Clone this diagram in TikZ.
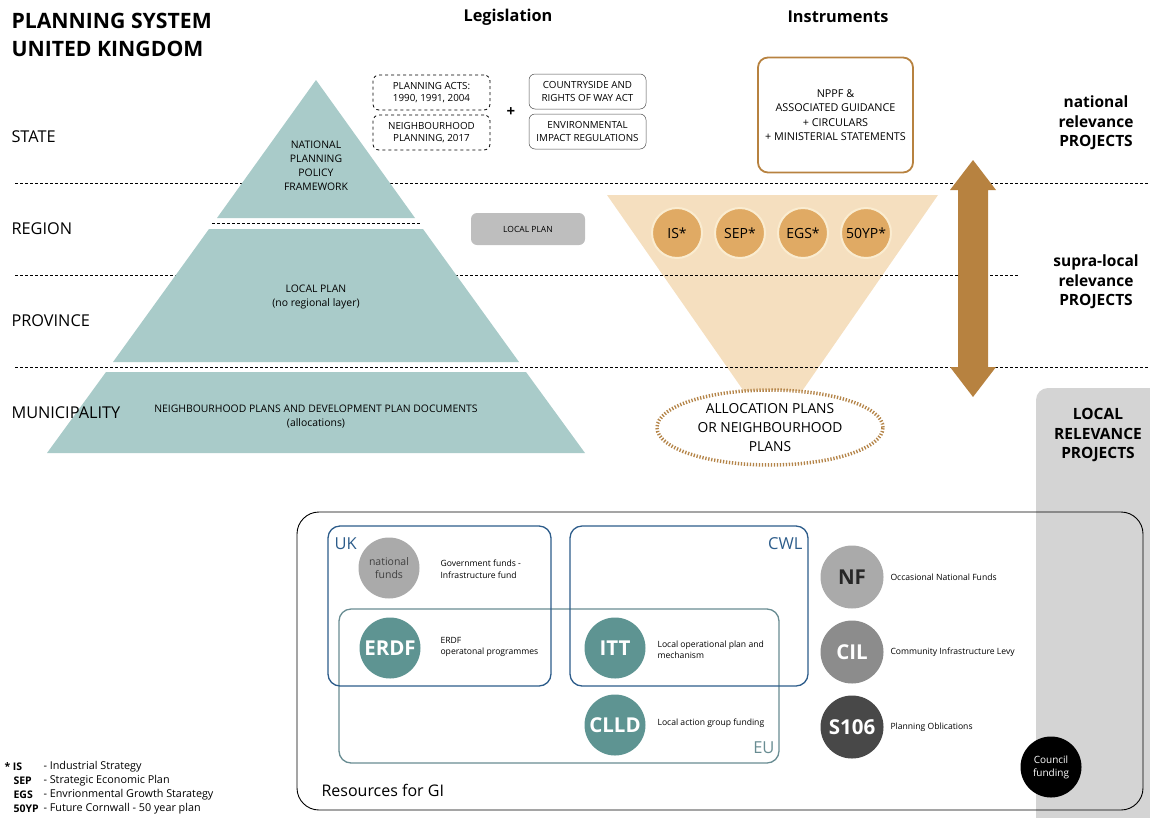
\documentclass[tikz,border=0pt]{standalone}
\usepackage{fontspec}
\setmainfont{Open Sans}
\usepackage{tikz}
\usetikzlibrary{shapes.geometric}

\definecolor{pyr}{RGB}{169,203,201}
\definecolor{fun}{RGB}{245,223,191}
\definecolor{ins}{RGB}{224,170,100}
\definecolor{ring}{RGB}{250,236,208}
\definecolor{brn}{RGB}{183,130,64}
\definecolor{dotc}{RGB}{180,132,72}
\definecolor{band}{RGB}{212,212,212}
\definecolor{lpg}{RGB}{190,190,190}
\definecolor{ukc}{RGB}{44,92,138}
\definecolor{euc}{RGB}{104,140,146}
\definecolor{tl}{RGB}{94,148,146}
\definecolor{nfc}{RGB}{170,170,170}
\definecolor{cilc}{RGB}{140,140,140}
\definecolor{sc}{RGB}{72,72,72}

\tikzset{
	lvl/.style={anchor=west, font=\fontsize{16.3}{18}\selectfont},
	hdr/.style={font=\bfseries\fontsize{16.3}{18}\selectfont},
	ptext/.style={align=center, font=\fontsize{10.4}{14}\selectfont},
	legbox/.style={rounded corners=6, minimum width=117, minimum height=35, align=center, inner sep=0, font=\fontsize{9.8}{12.5}\selectfont},
	lev/.style={align=center, font=\bfseries\fontsize{15.5}{19.5}\selectfont},
	inst/.style={circle, fill=ins, draw=ring, line width=2, minimum size=50, inner sep=0, font=\fontsize{14}{15}\selectfont},
	fund/.style={circle, minimum size=61, inner sep=0, font=\bfseries\fontsize{20.5}{22}\selectfont},
	desc/.style={anchor=west, align=left, font=\fontsize{8.6}{11.5}\selectfont},
	grp/.style={font=\fontsize{16.5}{18}\selectfont},
	key/.style={anchor=west, font=\bfseries\fontsize{10.5}{12}\selectfont},
	keyd/.style={anchor=west, font=\fontsize{10.8}{12}\selectfont}
}

\begin{document}
\begin{tikzpicture}[x=1pt, y=-1pt]
	\useasboundingbox (0,0) rectangle (1150,817);

	% titles
	\node[anchor=west, font=\bfseries\fontsize{21.2}{23}\selectfont] (t1) at (8,21) {PLANNING SYSTEM};
	\node[anchor=west, font=\bfseries\fontsize{21.2}{23}\selectfont] (t2) at (8,49) {UNITED KINGDOM};
	\node[hdr] (legis) at (508,17) {Legislation};
	\node[hdr] (instr) at (838,17) {Instruments};

	% funnel
	\fill[fun] (607,195) -- (938,195) -- (773,433) -- cycle;

	% level lines
	\draw[dash pattern=on 3pt off 2pt, line width=0.8] (15,183) -- (1150,183);
	\draw[dash pattern=on 3pt off 2pt, line width=0.8] (15,275) -- (1019,275);
	\draw[dash pattern=on 3pt off 2pt, line width=0.8] (15,367) -- (1150,367);

	% pyramid
	\fill[pyr] (316,80) -- (415,218) -- (217,218) -- cycle;
	\draw[dash pattern=on 3pt off 2pt, line width=0.8] (212,223) -- (420,223);
	\fill[pyr] (209,229) -- (423,229) -- (519,362) -- (113,362) -- cycle;
	\fill[pyr] (106,372) -- (526,372) -- (585,453) -- (47,453) -- cycle;
	\node[ptext] (nppf) at (316,166) {NATIONAL\\PLANNING\\POLICY\\FRAMEWORK};
	\node[ptext] (lplan) at (316,297) {LOCAL PLAN\\(no regional layer)};
	\node[ptext] (nplans) at (316,417) {NEIGHBOURHOOD PLANS AND DEVELOPMENT PLAN DOCUMENTS\\(allocations)};

	\node[lvl] (state) at (8,137) {STATE};
	\node[lvl] (region) at (8,229) {REGION};
	\node[lvl] (prov) at (8,321) {PROVINCE};
	\node[lvl] (muni) at (8,413) {MUNICIPALITY};

	% legislation
	\node[legbox, draw, dashed, line width=0.8] (acts) at (431.5,92.5) {PLANNING ACTS:\\1990, 1991, 2004};
	\node[legbox, draw, dashed, line width=0.8] (neigh) at (431.5,132.5) {NEIGHBOURHOOD\\PLANNING, 2017};
	\node[font=\bfseries\fontsize{15}{16}\selectfont] (plus) at (511,112) {+};
	\node[legbox, draw=black!70, line width=0.5] (crow) at (587.5,91.5) {COUNTRYSIDE AND\\RIGHTS OF WAY ACT};
	\node[legbox, draw=black!70, line width=0.5] (eia) at (587.5,131.5) {ENVIRONMENTAL\\IMPACT REGULATIONS};
	\node[fill=lpg, rounded corners=6, minimum width=114, minimum height=32, font=\fontsize{8.5}{10}\selectfont] (lpbox) at (528,229) {LOCAL PLAN};

	% instruments
	\node[draw=brn, line width=1.8, rounded corners=10, minimum width=155, minimum height=115, align=center, font=\fontsize{10.8}{14.3}\selectfont] (guid) at (835.5,115) {NPPF \&\\ASSOCIATED GUIDANCE\\+ CIRCULARS\\+ MINISTERIAL STATEMENTS};
	\node[inst] (is) at (677,233) {IS*};
	\node[inst] (sep) at (740,233) {SEP*};
	\node[inst] (egs) at (803,233) {EGS*};
	\node[inst] (yp) at (866,233) {50YP*};
	\node[ellipse, draw=dotc, fill=white, line width=3.5, dash pattern=on 1.3pt off 1.7pt, minimum width=226, minimum height=75, inner sep=0, align=center, font=\fontsize{13.8}{19}\selectfont] (alloc) at (770,427.5) {ALLOCATION PLANS\\OR NEIGHBOURHOOD\\PLANS};

	% relevance arrow
	\fill[brn] (973,160) -- (996,190) -- (988,190) -- (988,367) -- (996,367) -- (973,397)
		-- (950,367) -- (958,367) -- (958,190) -- (950,190) -- cycle;
	\node[lev] (natp) at (1096,123) {national\\relevance\\PROJECTS};
	\node[lev] (supp) at (1096,282) {supra-local\\relevance\\PROJECTS};

	\fill[band, rounded corners=12] (1036,388) rectangle (1175,845);
	\node[lev] (locp) at (1098,435) {LOCAL\\RELEVANCE\\PROJECTS};

	% resources
	\draw[line width=0.9, rounded corners=22] (297,512) rectangle (1143,810);
	\node[anchor=west, font=\fontsize{16}{17}\selectfont] (res) at (318,790) {Resources for GI};

	\draw[euc, line width=1.3, rounded corners=12] (339,609) rectangle (779,763);
	\draw[ukc, line width=1.3, rounded corners=12] (328,526) rectangle (551,686);
	\draw[ukc, line width=1.3, rounded corners=12] (570,526) rectangle (808,686);
	\node[grp, ukc, anchor=west] (uk) at (331,544) {UK};
	\node[grp, ukc, anchor=east] (cwl) at (806,544) {CWL};
	\node[grp, euc, anchor=east] (eu) at (778,748) {EU};

	\node[fund, fill=nfc, text=black!75, font=\fontsize{10.5}{13}\selectfont, align=center] (natf) at (389,568) {national\\funds};
	\node[fund, fill=tl, text=white] (erdf) at (390,648) {ERDF};
	\node[fund, fill=tl, text=white] (itt) at (615,648) {ITT};
	\node[fund, fill=tl, text=white] (clld) at (615,725) {CLLD};
	\node[fund, fill=nfc, text=black!85, minimum size=63] (nf) at (852,577) {NF};
	\node[fund, fill=cilc, text=white, minimum size=63] (cil) at (852,652) {CIL};
	\node[fund, fill=sc, text=white, minimum size=63] (s106) at (852,727) {S106};
	\node[fund, fill=black, text=white, font=\fontsize{10}{13}\selectfont, align=center] (council) at (1051,767) {Council\\funding};

	\node[desc] (d1) at (437,569) {Government funds -\\Infrastructure fund};
	\node[desc] (d2) at (437,647) {ERDF\\operatonal programmes};
	\node[desc] (d3) at (654,650) {Local operational plan and\\mechanism};
	\node[desc] (d4) at (654,723) {Local action group funding};
	\node[desc] (d5) at (887,577) {Occasional National Funds};
	\node[desc] (d6) at (887,652) {Community Infrastructure Levy};
	\node[desc] (d7) at (887,727) {Planning Oblications};

	% legend
	\node[key] (k1) at (1,767) {* IS};
	\node[key] (k2) at (10,781) {SEP};
	\node[key] (k3) at (10,795) {EGS};
	\node[key] (k4) at (10,809) {50YP};
	\node[keyd] (l1) at (40,767) {- Industrial Strategy};
	\node[keyd] (l2) at (40,781) {- Strategic Economic Plan};
	\node[keyd] (l3) at (40,795) {- Envrionmental Growth Starategy};
	\node[keyd] (l4) at (40,809) {- Future Cornwall - 50 year plan};
\end{tikzpicture}
\end{document}
